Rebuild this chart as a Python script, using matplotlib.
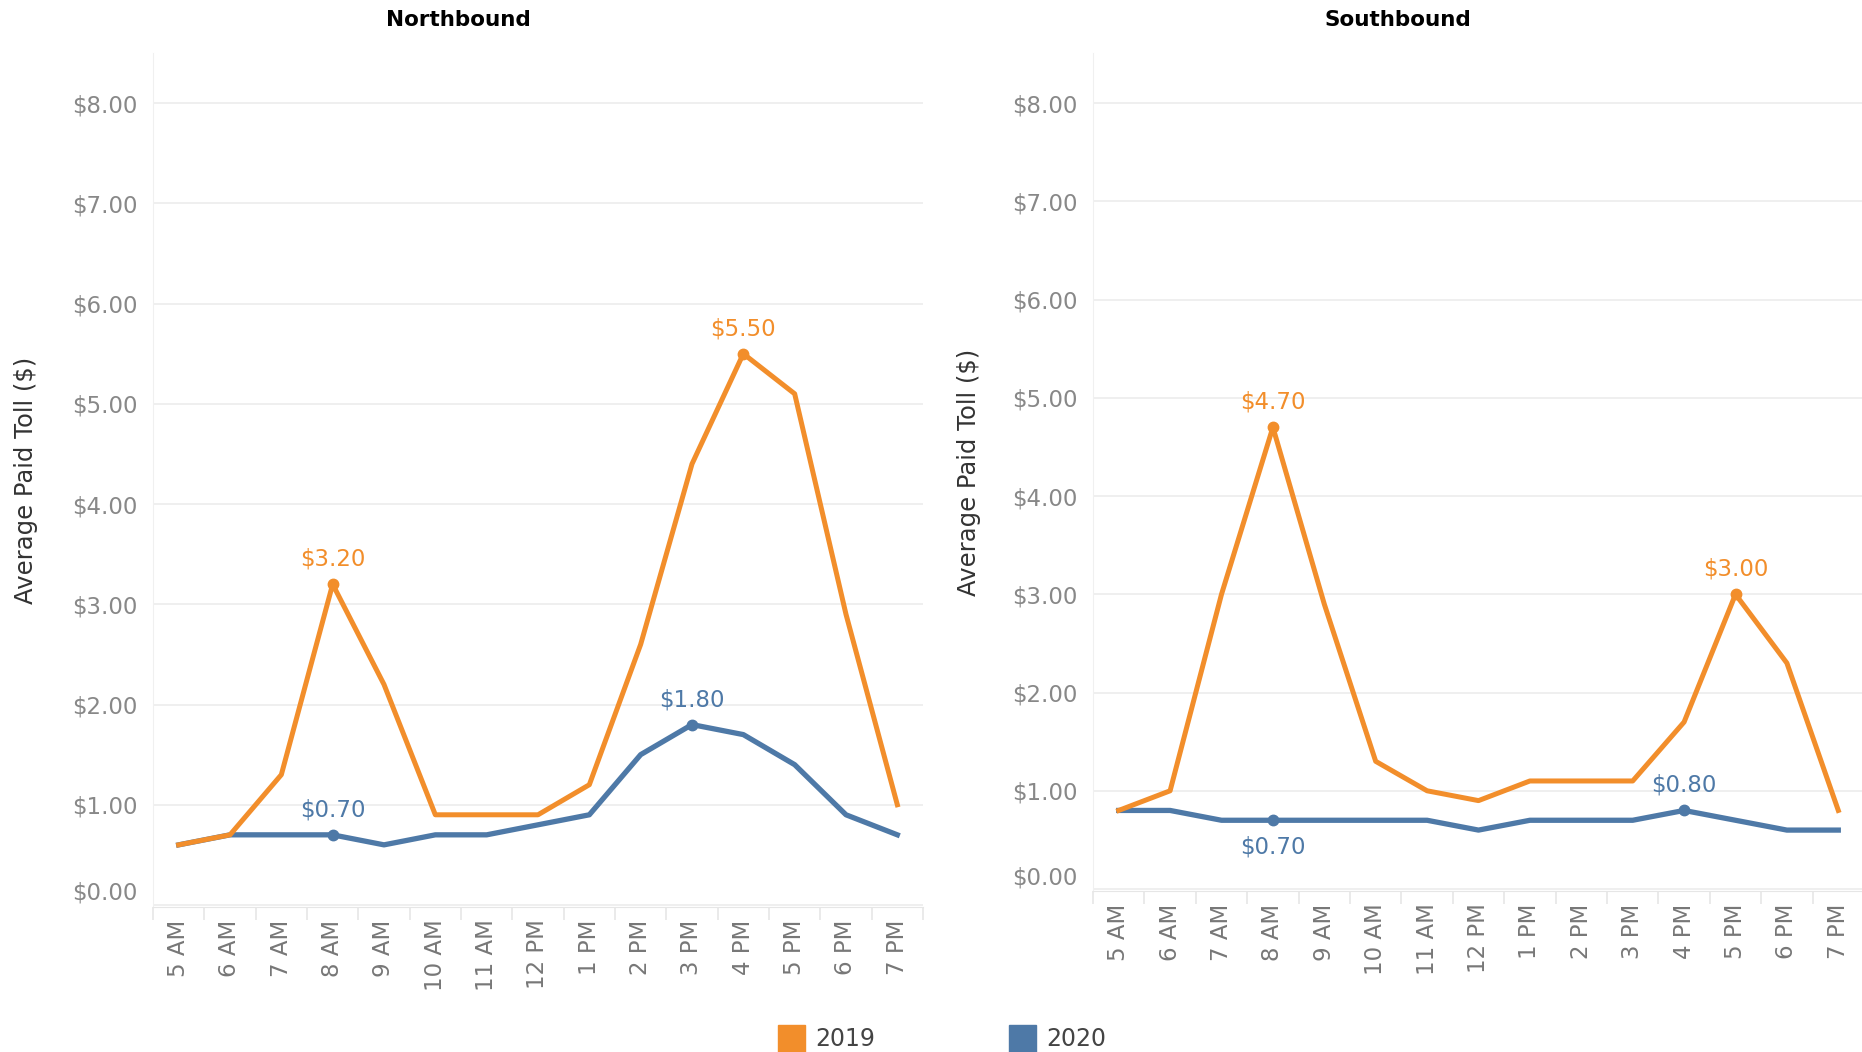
import numpy as np
import matplotlib
matplotlib.use("Agg")
import matplotlib.pyplot as plt
from matplotlib.patches import Rectangle

plt.rcParams['font.family'] = ['DejaVu Sans']

hours = ['5 AM', '6 AM', '7 AM', '8 AM', '9 AM', '10 AM', '11 AM', '12 PM',
         '1 PM', '2 PM', '3 PM', '4 PM', '5 PM', '6 PM', '7 PM']

# Northbound
nb_2019 = [0.6, 0.7, 1.3, 3.2, 2.2, 0.9, 0.9, 0.9, 1.2, 2.6, 4.4, 5.5, 5.1, 2.9, 1.0]
nb_2020 = [0.6, 0.7, 0.7, 0.7, 0.6, 0.7, 0.7, 0.8, 0.9, 1.5, 1.8, 1.7, 1.4, 0.9, 0.7]
# Southbound
sb_2019 = [0.8, 1.0, 3.0, 4.7, 2.9, 1.3, 1.0, 0.9, 1.1, 1.1, 1.1, 1.7, 3.0, 2.3, 0.8]
sb_2020 = [0.8, 0.8, 0.7, 0.7, 0.7, 0.7, 0.7, 0.6, 0.7, 0.7, 0.7, 0.8, 0.7, 0.6, 0.6]

# labelled points: (index, above?)
nb_marks_2019 = [(3, True), (11, True)]
nb_marks_2020 = [(3, True), (10, True)]
sb_marks_2019 = [(3, True), (12, True)]
sb_marks_2020 = [(3, False), (11, True)]

yticks = [0, 1, 2, 3, 4, 5, 6, 7, 8]

ORANGE = '#F28E2B'
BLUE = '#4E79A7'
W, H = 1862, 1052

fig = plt.figure(figsize=(W / 100, H / 100), dpi=100)


def px_axes(x0, x1, ytop, ybot):
    return fig.add_axes([x0 / W, 1 - ybot / H, (x1 - x0) / W, (ybot - ytop) / H])


def draw_panel(ax, s19, s20, m19, m20, ytop_val):
    x = np.arange(len(hours))
    ax.plot(x, s20, color=BLUE, lw=3.8, zorder=3, solid_joinstyle='round')
    ax.plot(x, s19, color=ORANGE, lw=3.6, zorder=4, solid_joinstyle='round')
    for series, marks, col in [(s19, m19, ORANGE), (s20, m20, BLUE)]:
        for i, above in marks:
            ax.plot(x[i], series[i], 'o', color=col, ms=7.5, zorder=5)
            ax.annotate(f'${series[i]:.2f}', (x[i], series[i]),
                        xytext=(0, 18 if above else -19), textcoords='offset points',
                        ha='center', va='center', color=col, fontsize=16.5, zorder=6)
    ax.set_xlim(-0.5, len(hours) - 0.5)
    ax.set_ylim(-0.02, ytop_val)
    ax.set_yticks(yticks)
    ax.set_yticklabels([f'${v:.2f}' for v in yticks])
    ax.grid(axis='y', color='#efefef', lw=1.4)
    ax.set_axisbelow(True)
    for side in ['top', 'right']:
        ax.spines[side].set_visible(False)
    ax.spines['left'].set_color('#f0f0f0')
    ax.spines['bottom'].set_color('#e6e6e6')
    ax.set_xticks(x)
    ax.set_xticklabels(hours, rotation=90, va='top', ha='center')
    ax.set_xticks(np.arange(-0.5, len(hours), 1), minor=True)
    ax.tick_params(axis='x', which='major', length=0, pad=9, labelsize=16.5,
                   labelcolor='#777777')
    ax.tick_params(axis='x', which='minor', length=9, color='#e6e6e6', width=1.2)
    ax.tick_params(axis='y', length=0, pad=11, labelsize=16.5, labelcolor='#888888')
    lab0 = ax.get_yticklabels()[0]
    lab0.set_va('bottom')
    ax.set_ylabel('Average Paid Toll ($)', fontsize=17.5, color='#333333')


L0, L1 = 153, 923
ax1 = px_axes(L0, L1, 53, 907)
draw_panel(ax1, nb_2019, nb_2020, nb_marks_2019, nb_marks_2020, 8.5)
ax1.yaxis.set_label_coords((38 - L0) / (L1 - L0), 0.5)

R0, R1 = 1093, 1864
ax2 = px_axes(R0, R1, 53, 891)
draw_panel(ax2, sb_2019, sb_2020, sb_marks_2019, sb_marks_2020, 8.51)
ax2.yaxis.set_label_coords((981 - R0) / (R1 - R0), 0.5)

fig.text(458 / W, 1 - 20 / H, 'Northbound', ha='center', va='center',
         fontsize=15.5, fontweight='bold', color='black')
fig.text(1398 / W, 1 - 20 / H, 'Southbound', ha='center', va='center',
         fontsize=15.5, fontweight='bold', color='black')

# legend
for x0, col, lab in [(778, ORANGE, '2019'), (1009, BLUE, '2020')]:
    fig.patches.append(Rectangle((x0 / W, 0), 27 / W, 27 / H, transform=fig.transFigure,
                                 color=col, zorder=10))
    fig.text((x0 + 37) / W, 1 - 1039 / H, lab, ha='left', va='center',
             fontsize=17, color='#444444')

fig.savefig('out.png', dpi=100)
